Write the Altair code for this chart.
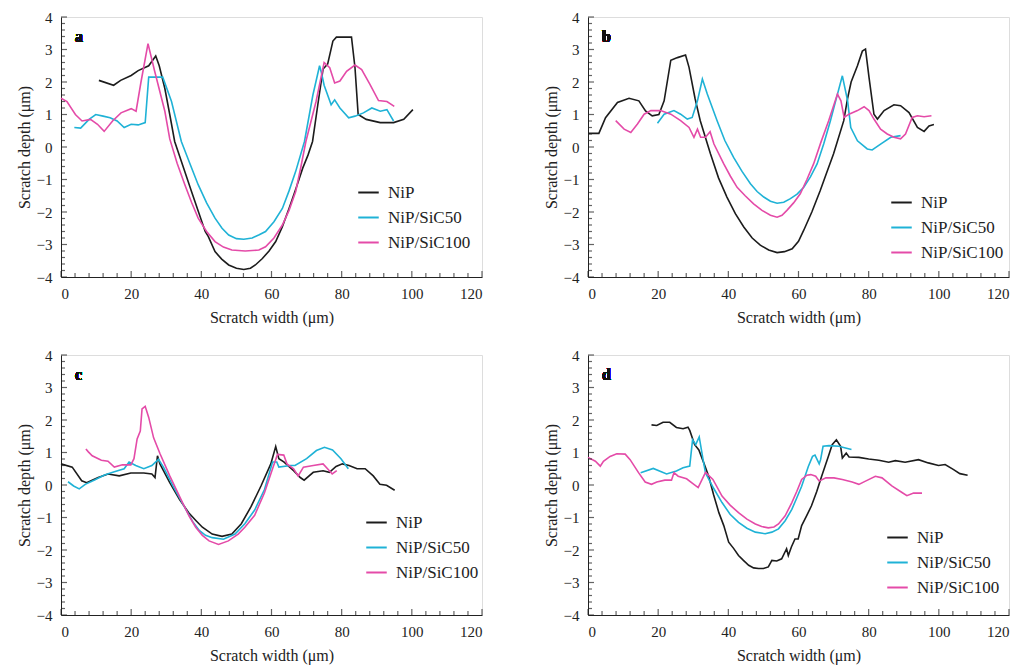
import altair as alt
import pandas as pd

SERIES = ["NiP", "NiP/SiC50", "NiP/SiC100"]
COLORS = ["#1c1c1c", "#1fb2d6", "#e44ba8"]

# ---------------- panel a ----------------
a_nip_x = [10.8, 15, 17, 20, 22, 25, 27, 28, 29.6, 31, 32.4, 34.8, 37.2, 39.2, 41.1, 42, 43.9, 45.8, 47.8, 50, 52.1, 54, 55.4, 57.4, 59.3, 61.2, 63.1, 65, 67, 68.9, 70.4, 71.7, 73.2, 74.7, 76, 77.5, 78.5, 82.8, 83.8, 84.7, 87, 91, 94.8, 97.7, 100.3]
a_nip_y = [2.05, 1.9, 2.05, 2.2, 2.35, 2.5, 2.8, 2.5, 1.8, 1.0, 0.17, -0.6, -1.37, -2.0, -2.6, -2.76, -3.22, -3.45, -3.63, -3.73, -3.77, -3.73, -3.63, -3.43, -3.2, -2.91, -2.45, -1.89, -1.27, -0.65, -0.25, 0.17, 1.3, 2.4, 2.55, 3.26, 3.38, 3.38, 2.44, 1.0, 0.85, 0.75, 0.75, 0.85, 1.15]
a_50_x = [3.8, 5.6, 8, 9.9, 12, 14, 16, 18, 20, 22, 24, 25, 29, 31.5, 34.3, 36.7, 39.1, 41.5, 43.9, 45.9, 47.8, 50, 52.1, 54.5, 56.5, 58.3, 60.7, 63.1, 65, 66.9, 69.4, 71.8, 73.7, 74.2, 75, 77, 78, 79.5, 82, 83.8, 86.2, 88.6, 91, 92.9, 94.8]
a_50_y = [0.6, 0.58, 0.85, 1.0, 0.95, 0.9, 0.8, 0.6, 0.7, 0.68, 0.75, 2.15, 2.15, 1.4, 0.17, -0.5, -1.16, -1.72, -2.19, -2.5, -2.71, -2.82, -2.84, -2.8, -2.7, -2.6, -2.3, -1.89, -1.35, -0.75, 0.17, 1.6, 2.5, 2.3, 1.9, 1.3, 1.45, 1.2, 0.9, 0.95, 1.05, 1.2, 1.1, 1.15, 0.8]
a_100_x = [0, 1.7, 4.1, 6, 8.4, 10.4, 12.3, 14.7, 17.1, 20, 21.4, 22.8, 24.8, 26.7, 29.6, 31, 33.1, 35.3, 37.2, 39.1, 41.5, 43.9, 46.3, 48.7, 52.5, 56.4, 58.3, 60.7, 63.1, 65, 66.9, 68.4, 69.8, 72.7, 75, 76.6, 78, 79.5, 81.4, 83.8, 85.7, 88.1, 90.5, 92.9, 95]
a_100_y = [1.5, 1.4, 1.0, 0.8, 0.85, 0.7, 0.48, 0.8, 1.05, 1.18, 1.1, 2.0, 3.18, 2.33, 1.1, 0.25, -0.5, -1.16, -1.7, -2.19, -2.6, -2.91, -3.08, -3.17, -3.2, -3.17, -3.07, -2.8, -2.4, -1.95, -1.37, -0.6, 0.17, 1.4, 2.6, 2.44, 1.97, 2.03, 2.33, 2.52, 2.38, 1.92, 1.43, 1.4, 1.25]

# ---------------- panel b ----------------
b_nip_x = [0, 3.1, 5, 8.4, 11.7, 14.5, 16.4, 18.3, 20.2, 21.7, 23.6, 25.5, 27.8, 28.8, 30.5, 32, 34.9, 37.2, 39.6, 42, 44.4, 46.8, 49.1, 51.5, 53.9, 56, 58.2, 60, 61.5, 63.8, 66.2, 68, 70, 72.9, 74, 75, 76.8, 78.2, 79.1, 80.1, 81.5, 82.5, 84.4, 87.2, 89.1, 91.5, 93.9, 95.8, 97.2, 98.6]
b_nip_y = [0.42, 0.42, 0.9, 1.37, 1.5, 1.42, 1.11, 0.96, 1.0, 1.42, 2.67, 2.75, 2.83, 2.45, 1.5, 0.81, -0.21, -0.95, -1.54, -2.05, -2.46, -2.8, -3.02, -3.17, -3.25, -3.22, -3.13, -2.9, -2.56, -2.0, -1.34, -0.8, -0.21, 0.81, 1.5, 2.0, 2.5, 2.95, 3.01, 2.14, 1.01, 0.86, 1.12, 1.3, 1.27, 1.06, 0.6, 0.48, 0.65, 0.69]
b_50_x = [19.8, 21.7, 24.5, 26.4, 28.3, 29.7, 31.2, 32.6, 34, 36.8, 39, 41.5, 43.9, 46.3, 48.2, 50.1, 52, 53.9, 55.8, 57.7, 59.6, 61.5, 63.4, 65.3, 67.2, 69.1, 70.6, 72.5, 74, 74.9, 76.8, 79.6, 81, 83.4, 86.3, 89.1]
b_50_y = [0.73, 1.01, 1.12, 1.01, 0.86, 0.91, 1.42, 2.09, 1.63, 0.81, 0.2, -0.32, -0.75, -1.13, -1.37, -1.54, -1.67, -1.73, -1.7, -1.59, -1.45, -1.24, -0.92, -0.52, 0.1, 0.81, 1.42, 2.19, 1.42, 0.6, 0.19, -0.06, -0.09, 0.09, 0.3, 0.35]
b_100_x = [7.9, 10.3, 12.2, 14.1, 16, 17.9, 20.7, 23.6, 26.4, 28.8, 30.2, 31.2, 32.1, 33.5, 34.8, 35.9, 38.7, 40.6, 42.5, 44.8, 47.2, 49.6, 52, 53.9, 55.3, 56.7, 58.6, 60.5, 62.4, 64.3, 66.4, 68.6, 71.1, 72.1, 73, 74.4, 76.8, 78.7, 80.1, 81.5, 83.4, 85.3, 87.2, 89.1, 90.5, 92.4, 93.9, 95.8, 97.9]
b_100_y = [0.81, 0.55, 0.45, 0.71, 1.01, 1.12, 1.12, 1.01, 0.81, 0.6, 0.3, 0.55, 0.3, 0.3, 0.47, 0.09, -0.52, -0.9, -1.24, -1.5, -1.75, -1.95, -2.1, -2.16, -2.1, -1.95, -1.72, -1.44, -1.0, -0.52, 0.15, 0.81, 1.63, 1.42, 0.91, 1.01, 1.12, 1.24, 1.12, 0.86, 0.55, 0.4, 0.3, 0.25, 0.4, 0.91, 0.96, 0.93, 0.96]

# ---------------- panel c ----------------
c_nip_x = [0, 3.2, 5.9, 7.3, 10.6, 13.4, 16.6, 19.9, 23.6, 25.9, 26.8, 27.5, 28.2, 31, 33.8, 36.6, 38.5, 40.3, 43.1, 45.9, 48.7, 51.4, 54.2, 57, 59.8, 61.2, 62.1, 63.5, 66.3, 68.2, 69.3, 71.9, 74.7, 76.5, 78.4, 80.2, 82.1, 84.4, 86.7, 89, 90.9, 92.8, 95.1]
c_nip_y = [0.65, 0.55, 0.13, 0.07, 0.23, 0.34, 0.28, 0.37, 0.37, 0.34, 0.23, 0.9, 0.65, 0.07, -0.45, -0.88, -1.1, -1.3, -1.51, -1.58, -1.51, -1.19, -0.66, -0.03, 0.65, 1.18, 0.81, 0.71, 0.44, 0.23, 0.15, 0.39, 0.44, 0.39, 0.57, 0.65, 0.6, 0.5, 0.5, 0.28, 0.02, -0.01, -0.16]
c_50_x = [2, 3.6, 5.2, 6.9, 9.7, 12.4, 15.2, 18, 19.4, 21.3, 23.6, 25.9, 27.8, 29.2, 31.9, 35.7, 37.5, 39.4, 41.2, 43.1, 46.3, 49.6, 52.4, 55.2, 58, 60.3, 61.5, 62.1, 65.4, 66.7, 70, 72.8, 75.1, 77.4, 79.8, 81.9]
c_50_y = [0.1, -0.03, -0.12, 0.02, 0.16, 0.31, 0.41, 0.5, 0.71, 0.6, 0.5, 0.6, 0.79, 0.55, -0.03, -0.77, -1.12, -1.4, -1.55, -1.62, -1.67, -1.51, -1.19, -0.77, -0.14, 0.71, 0.71, 0.55, 0.6, 0.6, 0.81, 1.06, 1.16, 1.08, 0.81, 0.5]
c_100_x = [7.1, 7.8, 8.9, 11.5, 13.4, 15.2, 17.5, 19.9, 20.8, 21.7, 22.6, 23.1, 24, 25, 26.4, 28.2, 31, 34.7, 36.6, 38.4, 40.3, 42.2, 44.9, 47.7, 50.5, 52.4, 55.2, 58, 60.3, 61.7, 63.5, 64.4, 66.3, 67.6, 69.1, 71.9, 74.7, 76.5, 77.3, 78.6]
c_100_y = [1.11, 1.02, 0.9, 0.76, 0.73, 0.55, 0.62, 0.62, 0.81, 1.42, 1.66, 2.34, 2.42, 2.08, 1.45, 0.97, 0.28, -0.56, -0.97, -1.3, -1.55, -1.72, -1.83, -1.72, -1.51, -1.3, -0.93, -0.24, 0.5, 0.94, 0.92, 0.65, 0.5, 0.28, 0.55, 0.6, 0.65, 0.44, 0.34, 0.44]

# ---------------- panel d ----------------
d_nip_x = [18.1, 19.6, 21.4, 23.3, 25.2, 27.1, 28.5, 29, 30.4, 31.6, 33, 34.4, 35.8, 37.3, 38.7, 40.1, 41.5, 42.9, 44.3, 45.8, 47.2, 48.6, 50, 51.4, 52.4, 53.8, 55.2, 56.6, 57.1, 58, 59, 59.9, 60.9, 62.3, 63.7, 65.2, 66.6, 68.5, 69.6, 70.8, 72, 72.5, 73.6, 74.4, 77.2, 80, 82.9, 85.7, 87.6, 90.4, 94.2, 97, 99.9, 101.8, 104.1, 106, 108.2]
d_nip_y = [1.85, 1.83, 1.93, 1.93, 1.77, 1.73, 1.78, 1.68, 1.24, 1.08, 0.68, 0.27, -0.3, -0.85, -1.25, -1.76, -1.95, -2.17, -2.32, -2.47, -2.55, -2.57, -2.57, -2.52, -2.32, -2.34, -2.27, -1.96, -2.17, -1.9, -1.66, -1.66, -1.25, -0.95, -0.64, -0.2, 0.27, 0.88, 1.24, 1.39, 1.19, 0.83, 0.98, 0.86, 0.85, 0.8, 0.76, 0.7, 0.75, 0.7, 0.78, 0.68, 0.6, 0.63, 0.48, 0.35, 0.3]
d_50_x = [15, 18.6, 22.4, 25.2, 27.1, 29, 29.8, 30.7, 31.7, 32.8, 33.5, 35.8, 38.2, 40.5, 42.9, 45.3, 47.7, 50.5, 52.4, 54.3, 56.2, 58.1, 59.5, 60.9, 62.8, 64, 64.7, 65.9, 66.3, 67, 68.7, 71.5, 73.4, 75.1]
d_50_y = [0.38, 0.51, 0.34, 0.43, 0.53, 0.58, 1.39, 1.24, 1.48, 0.78, 0.37, -0.1, -0.54, -0.9, -1.15, -1.33, -1.45, -1.5, -1.45, -1.35, -1.1, -0.75, -0.4, -0.04, 0.57, 0.88, 0.92, 0.65, 0.78, 1.19, 1.21, 1.19, 1.14, 1.09]
d_100_x = [0, 2.1, 3.5, 4.4, 6.3, 8.2, 10.6, 12, 14.4, 16.3, 18.1, 19.6, 21.9, 23.8, 24.5, 25.7, 28.1, 29.8, 31.4, 33.5, 35.6, 38.2, 40.5, 42.9, 45.3, 47.7, 49.5, 51.4, 53, 54.3, 56.2, 58.1, 59.5, 60.9, 62.4, 63.5, 64.9, 65.9, 67.8, 70.1, 72.5, 75.3, 77.2, 79.1, 81.9, 83.8, 86.6, 89.5, 90.9, 92.8, 95.2]
d_100_y = [0.85, 0.73, 0.58, 0.73, 0.88, 0.96, 0.95, 0.78, 0.38, 0.09, 0.02, 0.09, 0.15, 0.15, 0.38, 0.27, 0.19, 0.05, -0.08, 0.39, 0.17, -0.34, -0.62, -0.85, -1.05, -1.2, -1.28, -1.32, -1.29, -1.2, -0.95, -0.54, -0.2, 0.17, 0.3, 0.32, 0.27, 0.12, 0.22, 0.22, 0.17, 0.09, 0.02, 0.12, 0.27, 0.22, -0.03, -0.23, -0.33, -0.25, -0.25]

PANELS = {
    "a": [(a_nip_x, a_nip_y), (a_50_x, a_50_y), (a_100_x, a_100_y)],
    "b": [(b_nip_x, b_nip_y), (b_50_x, b_50_y), (b_100_x, b_100_y)],
    "c": [(c_nip_x, c_nip_y), (c_50_x, c_50_y), (c_100_x, c_100_y)],
    "d": [(d_nip_x, d_nip_y), (d_50_x, d_50_y), (d_100_x, d_100_y)],
}
LEGEND_POS = {"a": (296, 164), "b": (302, 174), "c": (304, 156), "d": (298, 171)}

X_MAJOR = [0, 20, 40, 60, 80, 100, 120]
Y_MAJOR = [-4, -3, -2, -1, 0, 1, 2, 3, 4]
X_MINOR = [v for v in range(0, 121, 4) if v % 20 != 0]
Y_MINOR = [round(-4 + i * 0.2, 1) for i in range(41) if i % 5 != 0]

FONT = "Liberation Serif"
INK = "#222"
W, H = 421, 260

X_AXIS = alt.Axis(
    orient="bottom", values=X_MAJOR, title="Scratch width (μm)", ticks=False,
    tickSize=0, labelPadding=9, titlePadding=8, grid=False, domainColor=INK,
    labelFont=FONT, titleFont=FONT, labelFontSize=15, titleFontSize=16,
    titleFontWeight="normal", labelColor=INK, titleColor=INK)
Y_AXIS = alt.Axis(
    orient="left", values=Y_MAJOR, title="Scratch depth (μm)", ticks=False,
    tickSize=0, labelPadding=9, titlePadding=4, grid=False, domainColor=INK,
    labelFont=FONT, titleFont=FONT, labelFontSize=15, titleFontSize=16,
    titleFontWeight="normal", labelColor=INK, titleColor=INK)


def make_panel(label):
    rows = []
    for name, (xs, ys) in zip(SERIES, PANELS[label]):
        for i, (xv, yv) in enumerate(zip(xs, ys)):
            rows.append({"x": xv, "y": yv, "series": name, "order": i})
    df = pd.DataFrame(rows)
    xscale = alt.Scale(domain=[0, 120], nice=False, zero=False)
    yscale = alt.Scale(domain=[-4, 4], nice=False, zero=False)
    lx, ly = LEGEND_POS[label]

    lines = alt.Chart(df).mark_line(strokeWidth=1.6).encode(
        x=alt.X("x:Q", scale=xscale, axis=X_AXIS),
        y=alt.Y("y:Q", scale=yscale, axis=Y_AXIS),
        color=alt.Color("series:N", scale=alt.Scale(domain=SERIES, range=COLORS),
                        legend=alt.Legend(title=None, orient="none", legendX=lx, legendY=ly,
                                          symbolType="stroke", symbolSize=420,
                                          symbolStrokeWidth=2, labelFont=FONT,
                                          labelFontSize=17, labelColor=INK,
                                          rowPadding=5, labelOffset=8)),
        detail="series:N",
        order="order:Q",
    )

    # inward-pointing tick marks along the bottom and left edges,
    # using the same fields and axis definitions so the axes merge
    def xticks(vals, length):
        d = pd.DataFrame({"x": vals})
        return alt.Chart(d).mark_tick(color=INK, thickness=1.2, size=length).encode(
            x=alt.X("x:Q", scale=xscale, axis=X_AXIS),
            y=alt.value(H - length / 2))

    def yticks(vals, length):
        d = pd.DataFrame({"y": vals})
        return alt.Chart(d).mark_tick(color=INK, thickness=1.2, size=length).encode(
            y=alt.Y("y:Q", scale=yscale, axis=Y_AXIS),
            x=alt.value(length / 2))

    tag = alt.Chart(df).mark_text(fontWeight="bold", font=FONT, fontSize=16,
                                  align="left", baseline="middle", color="#111").encode(
        x=alt.value(14), y=alt.value(20), text=alt.value(label))

    return alt.layer(
        lines,
        xticks(X_MAJOR, 6), xticks(X_MINOR, 4),
        yticks(Y_MAJOR, 6), yticks(Y_MINOR, 4),
        tag,
    ).properties(width=W, height=H)


chart = alt.concat(
    make_panel("a"), make_panel("b"), make_panel("c"), make_panel("d"),
    columns=2, spacing={"row": 78, "column": 106},
).properties(
    bounds="flush",
    padding={"left": 15, "top": 9, "right": 5, "bottom": 5},
).resolve_scale(color="independent").configure_view(
    stroke="#777", strokeWidth=1
).configure_axis(
    labelFont=FONT, titleFont=FONT
).configure_legend(
    labelFont=FONT
).configure(background="white", font=FONT)

chart.save("out.html", embed_options={"renderer": "svg", "actions": False})
